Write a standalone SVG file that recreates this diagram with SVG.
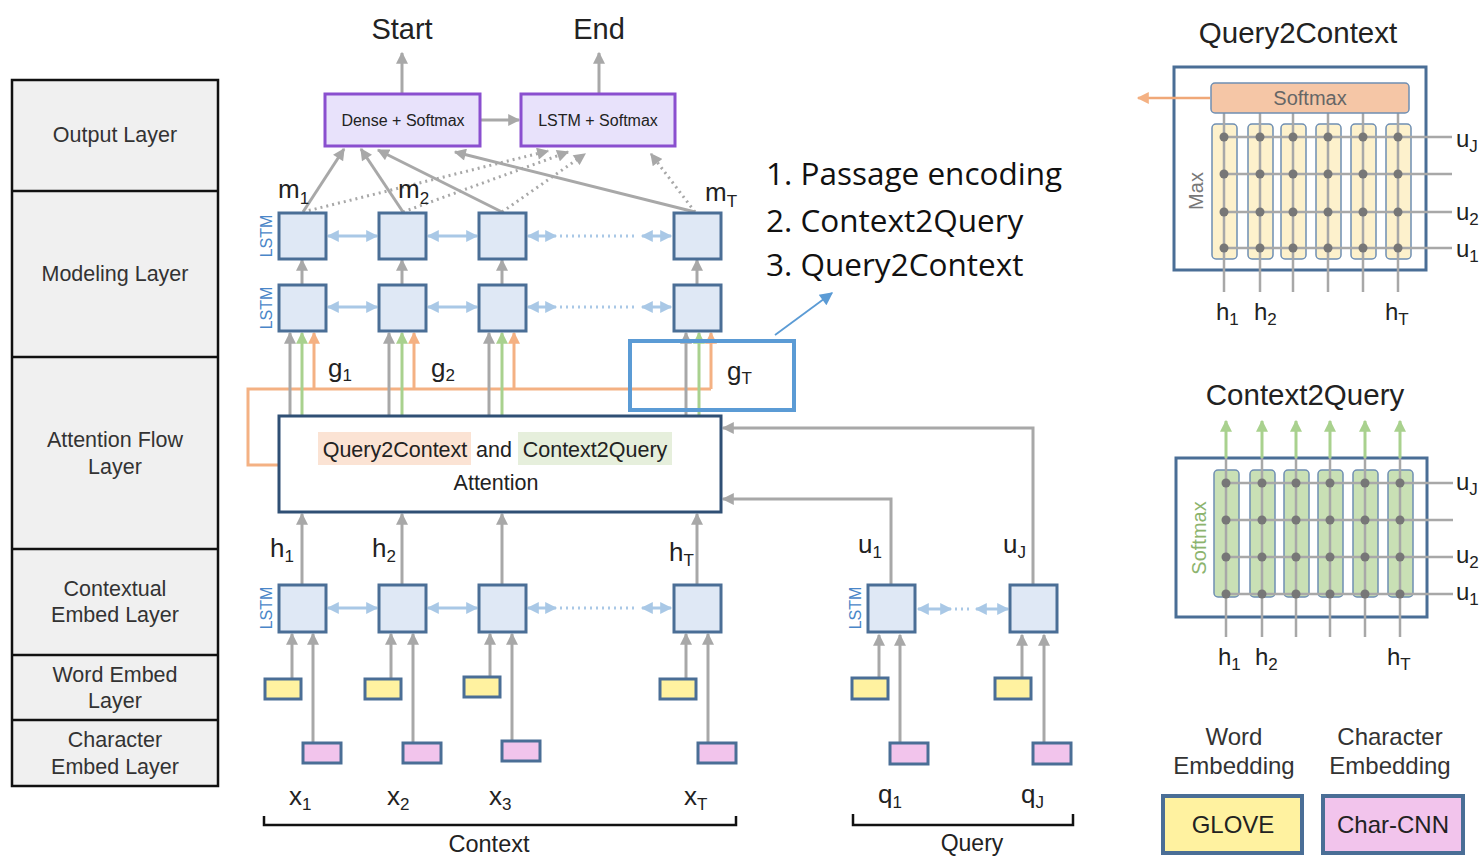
<svg xmlns="http://www.w3.org/2000/svg" width="1484" height="857" viewBox="0 0 1484 857">
<defs>
<style>
text{font-family:"Liberation Sans",Arial,sans-serif}
.dk{fill:#222}
.lay{font-size:21.5px;fill:#333;text-anchor:middle}
.var{font-size:26px;fill:#222}
.sub{font-size:17px}
.lstm{fill:#dfe8f5;stroke:#4a6e96;stroke-width:3}
.lstmlbl{font-size:16px;fill:#4a86c8;text-anchor:middle}
.g{stroke:#a8a8a8;stroke-width:3;fill:none}
.gd{stroke:#a8a8a8;stroke-width:3;fill:none;stroke-dasharray:2 4}
.grn{stroke:#a9d18e;stroke-width:3;fill:none}
.org{stroke:#f4b183;stroke-width:3;fill:none}
.bi{stroke:#a9c8e6;stroke-width:3;fill:none}
.bid{stroke:#a9c8e6;stroke-width:3;fill:none;stroke-dasharray:2 4}
.yel{fill:#fff2a0;stroke:#4a6e96;stroke-width:3}
.pnk{fill:#f2c4ec;stroke:#4a6e96;stroke-width:3}
.out{fill:#e8e2fb;stroke:#8a4fcf;stroke-width:3}
.dot{fill:#777}
.gl{stroke:#a8a8a8;stroke-width:2.5;fill:none}
.step{font-family:"Open Sans","Noto Sans",sans-serif;font-size:31.5px;fill:#111}
.leg{font-size:24px;fill:#333;text-anchor:middle}
.att{font-size:21.5px;fill:#222;text-anchor:middle}
</style>
<marker id="ag" viewBox="0 0 10 10" refX="9" refY="5" markerWidth="13" markerHeight="12" markerUnits="userSpaceOnUse" orient="auto"><path d="M0,0 L10,5 L0,10 z" fill="#a8a8a8"/></marker>
<marker id="agr" viewBox="0 0 10 10" refX="9" refY="5" markerWidth="13" markerHeight="12" markerUnits="userSpaceOnUse" orient="auto"><path d="M0,0 L10,5 L0,10 z" fill="#a9d18e"/></marker>
<marker id="aor" viewBox="0 0 10 10" refX="9" refY="5" markerWidth="13" markerHeight="12" markerUnits="userSpaceOnUse" orient="auto"><path d="M0,0 L10,5 L0,10 z" fill="#f4b183"/></marker>
<marker id="abl" viewBox="0 0 10 10" refX="9" refY="5" markerWidth="13" markerHeight="12" markerUnits="userSpaceOnUse" orient="auto-start-reverse"><path d="M0,0 L10,5 L0,10 z" fill="#a9c8e6"/></marker>
<marker id="acall" viewBox="0 0 10 10" refX="9" refY="5" markerWidth="16" markerHeight="13" markerUnits="userSpaceOnUse" orient="auto"><path d="M0,0 L10,5 L0,10 z" fill="#5b9bd5"/></marker>
</defs>
<rect width="1484" height="857" fill="#fff"/>

<g id="layers">
<rect x="12" y="80" width="206" height="706" fill="#f0f0f0" stroke="#111" stroke-width="2.5"/>
<path d="M12,191H218M12,357H218M12,549H218M12,655H218M12,720H218" stroke="#111" stroke-width="2.5" fill="none"/>
<text class="lay" x="115" y="142">Output Layer</text>
<text class="lay" x="115" y="281">Modeling Layer</text>
<text class="lay" x="115" y="447">Attention Flow</text>
<text class="lay" x="115" y="474">Layer</text>
<text class="lay" x="115" y="596">Contextual</text>
<text class="lay" x="115" y="622">Embed Layer</text>
<text class="lay" x="115" y="682">Word Embed</text>
<text class="lay" x="115" y="708">Layer</text>
<text class="lay" x="115" y="747">Character</text>
<text class="lay" x="115" y="774">Embed Layer</text>
</g>

<g id="connectors">
<line class="g" x1="402" y1="93" x2="402" y2="53" marker-end="url(#ag)"/>
<line class="g" x1="599" y1="93" x2="599" y2="53" marker-end="url(#ag)"/>
<line class="g" x1="481" y1="120" x2="519" y2="120" marker-end="url(#ag)"/>
<line class="g" x1="303" y1="212" x2="344" y2="149" marker-end="url(#ag)"/>
<line class="g" x1="403" y1="212" x2="361" y2="149" marker-end="url(#ag)"/>
<line class="g" x1="502" y1="212" x2="378" y2="150" marker-end="url(#ag)"/>
<line class="g" x1="695" y1="212" x2="455" y2="152" marker-end="url(#ag)"/>
<line class="gd" x1="303" y1="212" x2="548" y2="151" marker-end="url(#ag)"/>
<line class="gd" x1="403" y1="212" x2="568" y2="152" marker-end="url(#ag)"/>
<line class="gd" x1="502" y1="212" x2="585" y2="154" marker-end="url(#ag)"/>
<line class="gd" x1="695" y1="212" x2="651" y2="154" marker-end="url(#ag)"/>
<line class="g" x1="302" y1="284" x2="302" y2="260" marker-end="url(#ag)"/>
<line class="g" x1="402" y1="284" x2="402" y2="260" marker-end="url(#ag)"/>
<line class="g" x1="502" y1="284" x2="502" y2="260" marker-end="url(#ag)"/>
<line class="g" x1="697" y1="284" x2="697" y2="260" marker-end="url(#ag)"/>
<line class="bi" x1="328" y1="236" x2="377" y2="236" marker-start="url(#abl)" marker-end="url(#abl)"/>
<line class="bi" x1="428" y1="236" x2="477" y2="236" marker-start="url(#abl)" marker-end="url(#abl)"/>
<line class="bi" x1="528" y1="236" x2="556" y2="236" marker-start="url(#abl)" marker-end="url(#abl)"/>
<line class="bid" x1="560" y1="236" x2="638" y2="236"/>
<line class="bi" x1="642" y1="236" x2="671" y2="236" marker-start="url(#abl)" marker-end="url(#abl)"/>
<line class="bi" x1="328" y1="307" x2="377" y2="307" marker-start="url(#abl)" marker-end="url(#abl)"/>
<line class="bi" x1="428" y1="307" x2="477" y2="307" marker-start="url(#abl)" marker-end="url(#abl)"/>
<line class="bi" x1="528" y1="307" x2="556" y2="307" marker-start="url(#abl)" marker-end="url(#abl)"/>
<line class="bid" x1="560" y1="307" x2="638" y2="307"/>
<line class="bi" x1="642" y1="307" x2="671" y2="307" marker-start="url(#abl)" marker-end="url(#abl)"/>
<path class="org" d="M279,465 H248 V389 H711"/>
<line class="org" x1="314" y1="389" x2="314" y2="333" marker-end="url(#aor)"/>
<line class="org" x1="414" y1="389" x2="414" y2="333" marker-end="url(#aor)"/>
<line class="org" x1="514" y1="389" x2="514" y2="333" marker-end="url(#aor)"/>
<line class="org" x1="711" y1="389" x2="711" y2="333" marker-end="url(#aor)"/>
<line class="g" x1="290" y1="416" x2="290" y2="333" marker-end="url(#ag)"/>
<line class="g" x1="389" y1="416" x2="389" y2="333" marker-end="url(#ag)"/>
<line class="g" x1="489" y1="416" x2="489" y2="333" marker-end="url(#ag)"/>
<line class="g" x1="686" y1="416" x2="686" y2="333" marker-end="url(#ag)"/>
<line class="grn" x1="302" y1="416" x2="302" y2="333" marker-end="url(#agr)"/>
<line class="grn" x1="402" y1="416" x2="402" y2="333" marker-end="url(#agr)"/>
<line class="grn" x1="502" y1="416" x2="502" y2="333" marker-end="url(#agr)"/>
<line class="grn" x1="699" y1="416" x2="699" y2="333" marker-end="url(#agr)"/>
<line class="g" x1="302" y1="585" x2="302" y2="514" marker-end="url(#ag)"/>
<line class="g" x1="402" y1="585" x2="402" y2="514" marker-end="url(#ag)"/>
<line class="g" x1="502" y1="585" x2="502" y2="514" marker-end="url(#ag)"/>
<line class="g" x1="697" y1="585" x2="697" y2="514" marker-end="url(#ag)"/>
<path class="g" d="M891,585 V499 H723" marker-end="url(#ag)"/>
<path class="g" d="M1033,585 V428 H723" marker-end="url(#ag)"/>
<line class="bi" x1="328" y1="608" x2="377" y2="608" marker-start="url(#abl)" marker-end="url(#abl)"/>
<line class="bi" x1="428" y1="608" x2="477" y2="608" marker-start="url(#abl)" marker-end="url(#abl)"/>
<line class="bi" x1="528" y1="608" x2="556" y2="608" marker-start="url(#abl)" marker-end="url(#abl)"/>
<line class="bid" x1="560" y1="608" x2="638" y2="608"/>
<line class="bi" x1="642" y1="608" x2="671" y2="608" marker-start="url(#abl)" marker-end="url(#abl)"/>
<line class="bi" x1="918" y1="609" x2="951" y2="609" marker-start="url(#abl)" marker-end="url(#abl)"/>
<line class="bid" x1="955" y1="609" x2="972" y2="609"/>
<line class="bi" x1="976" y1="609" x2="1008" y2="609" marker-start="url(#abl)" marker-end="url(#abl)"/>
<line class="g" x1="292" y1="678" x2="292" y2="634" marker-end="url(#ag)"/>
<line class="g" x1="313" y1="742" x2="313" y2="634" marker-end="url(#ag)"/>
<line class="g" x1="391" y1="678" x2="391" y2="634" marker-end="url(#ag)"/>
<line class="g" x1="413" y1="742" x2="413" y2="634" marker-end="url(#ag)"/>
<line class="g" x1="490" y1="676" x2="490" y2="634" marker-end="url(#ag)"/>
<line class="g" x1="512" y1="740" x2="512" y2="634" marker-end="url(#ag)"/>
<line class="g" x1="686" y1="678" x2="686" y2="634" marker-end="url(#ag)"/>
<line class="g" x1="708" y1="742" x2="708" y2="634" marker-end="url(#ag)"/>
<line class="g" x1="879" y1="677" x2="879" y2="635" marker-end="url(#ag)"/>
<line class="g" x1="900" y1="743" x2="900" y2="635" marker-end="url(#ag)"/>
<line class="g" x1="1022" y1="677" x2="1022" y2="635" marker-end="url(#ag)"/>
<line class="g" x1="1044" y1="743" x2="1044" y2="635" marker-end="url(#ag)"/>
<line x1="775" y1="335" x2="832" y2="293" stroke="#5b9bd5" stroke-width="1.8" marker-end="url(#acall)"/>
</g>

<g id="dense"><rect class="out" x="325" y="94" width="155" height="52"/><text class="dk" x="403" y="126" font-size="16" text-anchor="middle">Dense + Softmax</text></g>
<g id="lstmsoft"><rect class="out" x="521" y="94" width="154" height="52"/><text class="dk" x="598" y="126" font-size="16" text-anchor="middle">LSTM + Softmax</text></g>
<text class="dk" x="402" y="39" font-size="29" text-anchor="middle">Start</text>
<text class="dk" x="599" y="39" font-size="29" text-anchor="middle">End</text>

<g id="mod1">
<rect class="lstm" x="279" y="213" width="47" height="46"/><rect class="lstm" x="379" y="213" width="47" height="46"/><rect class="lstm" x="479" y="213" width="47" height="46"/><rect class="lstm" x="674" y="213" width="47" height="46"/>
<text class="lstmlbl" transform="translate(272,236) rotate(-90)">LSTM</text>
</g>
<g id="mod2">
<rect class="lstm" x="279" y="285" width="47" height="46"/><rect class="lstm" x="379" y="285" width="47" height="46"/><rect class="lstm" x="479" y="285" width="47" height="46"/><rect class="lstm" x="674" y="285" width="47" height="46"/>
<text class="lstmlbl" transform="translate(272,308) rotate(-90)">LSTM</text>
</g>
<g id="mlabels">
<text class="var" x="278" y="198">m<tspan class="sub" dy="6">1</tspan></text>
<text class="var" x="398" y="198">m<tspan class="sub" dy="6">2</tspan></text>
<text class="var" x="705" y="201">m<tspan class="sub" dy="6">T</tspan></text>
</g>
<g id="glabels">
<text class="var" x="328" y="377">g<tspan class="sub" dy="4">1</tspan></text>
<text class="var" x="431" y="377">g<tspan class="sub" dy="4">2</tspan></text>
<text class="var" x="727" y="380">g<tspan class="sub" dy="4">T</tspan></text>
</g>
<g id="gThighlight"><rect x="630" y="341" width="164" height="69" fill="none" stroke="#5b9bd5" stroke-width="4"/></g>

<g id="attention">
<rect x="279" y="416" width="442" height="96" fill="#fff" stroke="#2f4f74" stroke-width="3"/>
<rect x="318" y="432" width="153" height="33" fill="#fbe3d4"/>
<rect x="518" y="432" width="154" height="33" fill="#e6efdc"/>
<text class="att" x="395" y="457">Query2Context</text>
<text class="att" x="494" y="457">and</text>
<text class="att" x="595" y="457">Context2Query</text>
<text class="att" x="496" y="490">Attention</text>
</g>

<g id="steps">
<text class="step" x="766" y="185">1. Passage encoding</text>
<text class="step" x="766" y="232">2. Context2Query</text>
<text class="step" x="766" y="276">3. Query2Context</text>
</g>

<g id="ctx">
<rect class="lstm" x="279" y="585" width="47" height="47"/><rect class="lstm" x="379" y="585" width="47" height="47"/><rect class="lstm" x="479" y="585" width="47" height="47"/><rect class="lstm" x="674" y="585" width="47" height="47"/>
<text class="lstmlbl" transform="translate(272,608) rotate(-90)">LSTM</text>
</g>
<g id="qry">
<rect class="lstm" x="868" y="585" width="47" height="47"/><rect class="lstm" x="1010" y="585" width="47" height="47"/>
<text class="lstmlbl" transform="translate(861,608) rotate(-90)">LSTM</text>
</g>
<g id="hlabels">
<text class="var" x="270" y="557">h<tspan class="sub" dy="5">1</tspan></text>
<text class="var" x="372" y="557">h<tspan class="sub" dy="5">2</tspan></text>
<text class="var" x="669" y="561">h<tspan class="sub" dy="5">T</tspan></text>
<text class="var" x="858" y="553">u<tspan class="sub" dy="5">1</tspan></text>
<text class="var" x="1003" y="553">u<tspan class="sub" dy="5">J</tspan></text>
</g>

<g id="wordemb">
<rect class="yel" x="265" y="679" width="36" height="20"/><rect class="yel" x="365" y="679" width="36" height="20"/><rect class="yel" x="464" y="677" width="36" height="20"/><rect class="yel" x="660" y="679" width="36" height="20"/>
<rect class="yel" x="852" y="678" width="36" height="21"/><rect class="yel" x="995" y="678" width="36" height="21"/>
</g>
<g id="charemb">
<rect class="pnk" x="303" y="743" width="38" height="20"/><rect class="pnk" x="403" y="743" width="38" height="20"/><rect class="pnk" x="502" y="741" width="38" height="20"/><rect class="pnk" x="698" y="743" width="38" height="20"/>
<rect class="pnk" x="890" y="743" width="38" height="21"/><rect class="pnk" x="1033" y="743" width="38" height="21"/>
</g>
<g id="xlabels">
<text class="var" x="289" y="805">x<tspan class="sub" dy="5">1</tspan></text>
<text class="var" x="387" y="805">x<tspan class="sub" dy="5">2</tspan></text>
<text class="var" x="489" y="805">x<tspan class="sub" dy="5">3</tspan></text>
<text class="var" x="684" y="805">x<tspan class="sub" dy="5">T</tspan></text>
<text class="var" x="878" y="803">q<tspan class="sub" dy="5">1</tspan></text>
<text class="var" x="1021" y="803">q<tspan class="sub" dy="5">J</tspan></text>
</g>
<g id="brackets">
<path d="M264,816 V825 H736 V816" fill="none" stroke="#111" stroke-width="2.5"/>
<text class="dk" x="489" y="852" font-size="23.5" text-anchor="middle">Context</text>
<path d="M853,814 V825 H1073 V814" fill="none" stroke="#111" stroke-width="2.5"/>
<text class="dk" x="972" y="851" font-size="23" text-anchor="middle">Query</text>
</g>

<g id="q2c">
<text class="dk" x="1298" y="43" font-size="29.5" text-anchor="middle">Query2Context</text>
<rect x="1174" y="67" width="252" height="203" fill="#fff" stroke="#4a6e96" stroke-width="3"/>
<line x1="1210" y1="98" x2="1138" y2="98" stroke="#f0a878" stroke-width="2.5" marker-end="url(#aor)"/>
<g fill="#fdf1cc" stroke="#6f8fb3" stroke-width="1.5">
<rect x="1212" y="124" width="25" height="135" rx="4"/><rect x="1248" y="124" width="25" height="135" rx="4"/><rect x="1281" y="124" width="25" height="135" rx="4"/><rect x="1316" y="124" width="25" height="135" rx="4"/><rect x="1351" y="124" width="25" height="135" rx="4"/><rect x="1386" y="124" width="25" height="135" rx="4"/>
</g>
<path class="gl" d="M1224,113V292M1260,113V292M1293,113V292M1328,113V292M1363,113V292M1398,113V292M1224,137H1452M1224,174H1452M1224,212H1452M1224,248H1452"/>
<rect x="1211" y="83" width="198" height="30" rx="4" fill="#f5c6a6" stroke="#6f8fb3" stroke-width="1.5"/>
<text x="1310" y="105" font-size="20" style="fill:#666" text-anchor="middle">Softmax</text>
<g class="dot">
<circle cx="1224" cy="137" r="4.5"/><circle cx="1260" cy="137" r="4.5"/><circle cx="1293" cy="137" r="4.5"/><circle cx="1328" cy="137" r="4.5"/><circle cx="1363" cy="137" r="4.5"/><circle cx="1398" cy="137" r="4.5"/>
<circle cx="1224" cy="174" r="4.5"/><circle cx="1260" cy="174" r="4.5"/><circle cx="1293" cy="174" r="4.5"/><circle cx="1328" cy="174" r="4.5"/><circle cx="1363" cy="174" r="4.5"/><circle cx="1398" cy="174" r="4.5"/>
<circle cx="1224" cy="212" r="4.5"/><circle cx="1260" cy="212" r="4.5"/><circle cx="1293" cy="212" r="4.5"/><circle cx="1328" cy="212" r="4.5"/><circle cx="1363" cy="212" r="4.5"/><circle cx="1398" cy="212" r="4.5"/>
<circle cx="1224" cy="248" r="4.5"/><circle cx="1260" cy="248" r="4.5"/><circle cx="1293" cy="248" r="4.5"/><circle cx="1328" cy="248" r="4.5"/><circle cx="1363" cy="248" r="4.5"/><circle cx="1398" cy="248" r="4.5"/>
</g>
<text transform="translate(1203,191) rotate(-90)" font-size="20" style="fill:#777" text-anchor="middle">Max</text>
<text class="var" x="1456" y="147" style="font-size:24px">u<tspan class="sub" dy="5">J</tspan></text>
<text class="var" x="1456" y="220" style="font-size:24px">u<tspan class="sub" dy="5">2</tspan></text>
<text class="var" x="1456" y="257" style="font-size:24px">u<tspan class="sub" dy="5">1</tspan></text>
<text class="var" x="1216" y="320" style="font-size:24px">h<tspan class="sub" dy="5">1</tspan></text>
<text class="var" x="1254" y="320" style="font-size:24px">h<tspan class="sub" dy="5">2</tspan></text>
<text class="var" x="1385" y="320" style="font-size:24px">h<tspan class="sub" dy="5">T</tspan></text>
</g>

<g id="c2q">
<text class="dk" x="1305" y="405" font-size="29.5" text-anchor="middle">Context2Query</text>
<rect x="1176" y="458" width="251" height="159" fill="#fff" stroke="#4a6e96" stroke-width="3"/>
<g fill="#c9e0b5" stroke="#6f8fb3" stroke-width="1.5">
<rect x="1214" y="470" width="25" height="127" rx="4"/><rect x="1250" y="470" width="25" height="127" rx="4"/><rect x="1284" y="470" width="25" height="127" rx="4"/><rect x="1318" y="470" width="25" height="127" rx="4"/><rect x="1353" y="470" width="25" height="127" rx="4"/><rect x="1388" y="470" width="25" height="127" rx="4"/>
</g>
<path class="gl" d="M1226,458V637M1262,458V637M1296,458V637M1330,458V637M1365,458V637M1400,458V637M1226,483H1453M1226,520H1453M1226,557H1453M1226,594H1453"/>
<line class="grn" x1="1226" y1="458" x2="1226" y2="421" marker-end="url(#agr)"/>
<line class="grn" x1="1262" y1="458" x2="1262" y2="421" marker-end="url(#agr)"/>
<line class="grn" x1="1296" y1="458" x2="1296" y2="421" marker-end="url(#agr)"/>
<line class="grn" x1="1330" y1="458" x2="1330" y2="421" marker-end="url(#agr)"/>
<line class="grn" x1="1365" y1="458" x2="1365" y2="421" marker-end="url(#agr)"/>
<line class="grn" x1="1400" y1="458" x2="1400" y2="421" marker-end="url(#agr)"/>
<g class="dot">
<circle cx="1226" cy="483" r="4.5"/><circle cx="1262" cy="483" r="4.5"/><circle cx="1296" cy="483" r="4.5"/><circle cx="1330" cy="483" r="4.5"/><circle cx="1365" cy="483" r="4.5"/><circle cx="1400" cy="483" r="4.5"/>
<circle cx="1226" cy="520" r="4.5"/><circle cx="1262" cy="520" r="4.5"/><circle cx="1296" cy="520" r="4.5"/><circle cx="1330" cy="520" r="4.5"/><circle cx="1365" cy="520" r="4.5"/><circle cx="1400" cy="520" r="4.5"/>
<circle cx="1226" cy="557" r="4.5"/><circle cx="1262" cy="557" r="4.5"/><circle cx="1296" cy="557" r="4.5"/><circle cx="1330" cy="557" r="4.5"/><circle cx="1365" cy="557" r="4.5"/><circle cx="1400" cy="557" r="4.5"/>
<circle cx="1226" cy="594" r="4.5"/><circle cx="1262" cy="594" r="4.5"/><circle cx="1296" cy="594" r="4.5"/><circle cx="1330" cy="594" r="4.5"/><circle cx="1365" cy="594" r="4.5"/><circle cx="1400" cy="594" r="4.5"/>
</g>
<text transform="translate(1206,538) rotate(-90)" font-size="20" style="fill:#8cb46e" text-anchor="middle">Softmax</text>
<text class="var" x="1456" y="490" style="font-size:24px">u<tspan class="sub" dy="5">J</tspan></text>
<text class="var" x="1456" y="563" style="font-size:24px">u<tspan class="sub" dy="5">2</tspan></text>
<text class="var" x="1456" y="600" style="font-size:24px">u<tspan class="sub" dy="5">1</tspan></text>
<text class="var" x="1218" y="665" style="font-size:24px">h<tspan class="sub" dy="5">1</tspan></text>
<text class="var" x="1255" y="665" style="font-size:24px">h<tspan class="sub" dy="5">2</tspan></text>
<text class="var" x="1387" y="665" style="font-size:24px">h<tspan class="sub" dy="5">T</tspan></text>
</g>

<g id="legend-word">
<text class="leg" x="1234" y="745">Word</text>
<text class="leg" x="1234" y="774">Embedding</text>
<rect x="1163" y="796" width="139" height="57" fill="#fff2a0" stroke="#4a6e96" stroke-width="4"/>
<text class="dk" x="1233" y="833" font-size="24" text-anchor="middle">GLOVE</text>
</g>
<g id="legend-char">
<text class="leg" x="1390" y="745">Character</text>
<text class="leg" x="1390" y="774">Embedding</text>
<rect x="1323" y="796" width="140" height="57" fill="#f2c4ec" stroke="#4a6e96" stroke-width="4"/>
<text class="dk" x="1393" y="833" font-size="24" text-anchor="middle">Char-CNN</text>
</g>
</svg>
